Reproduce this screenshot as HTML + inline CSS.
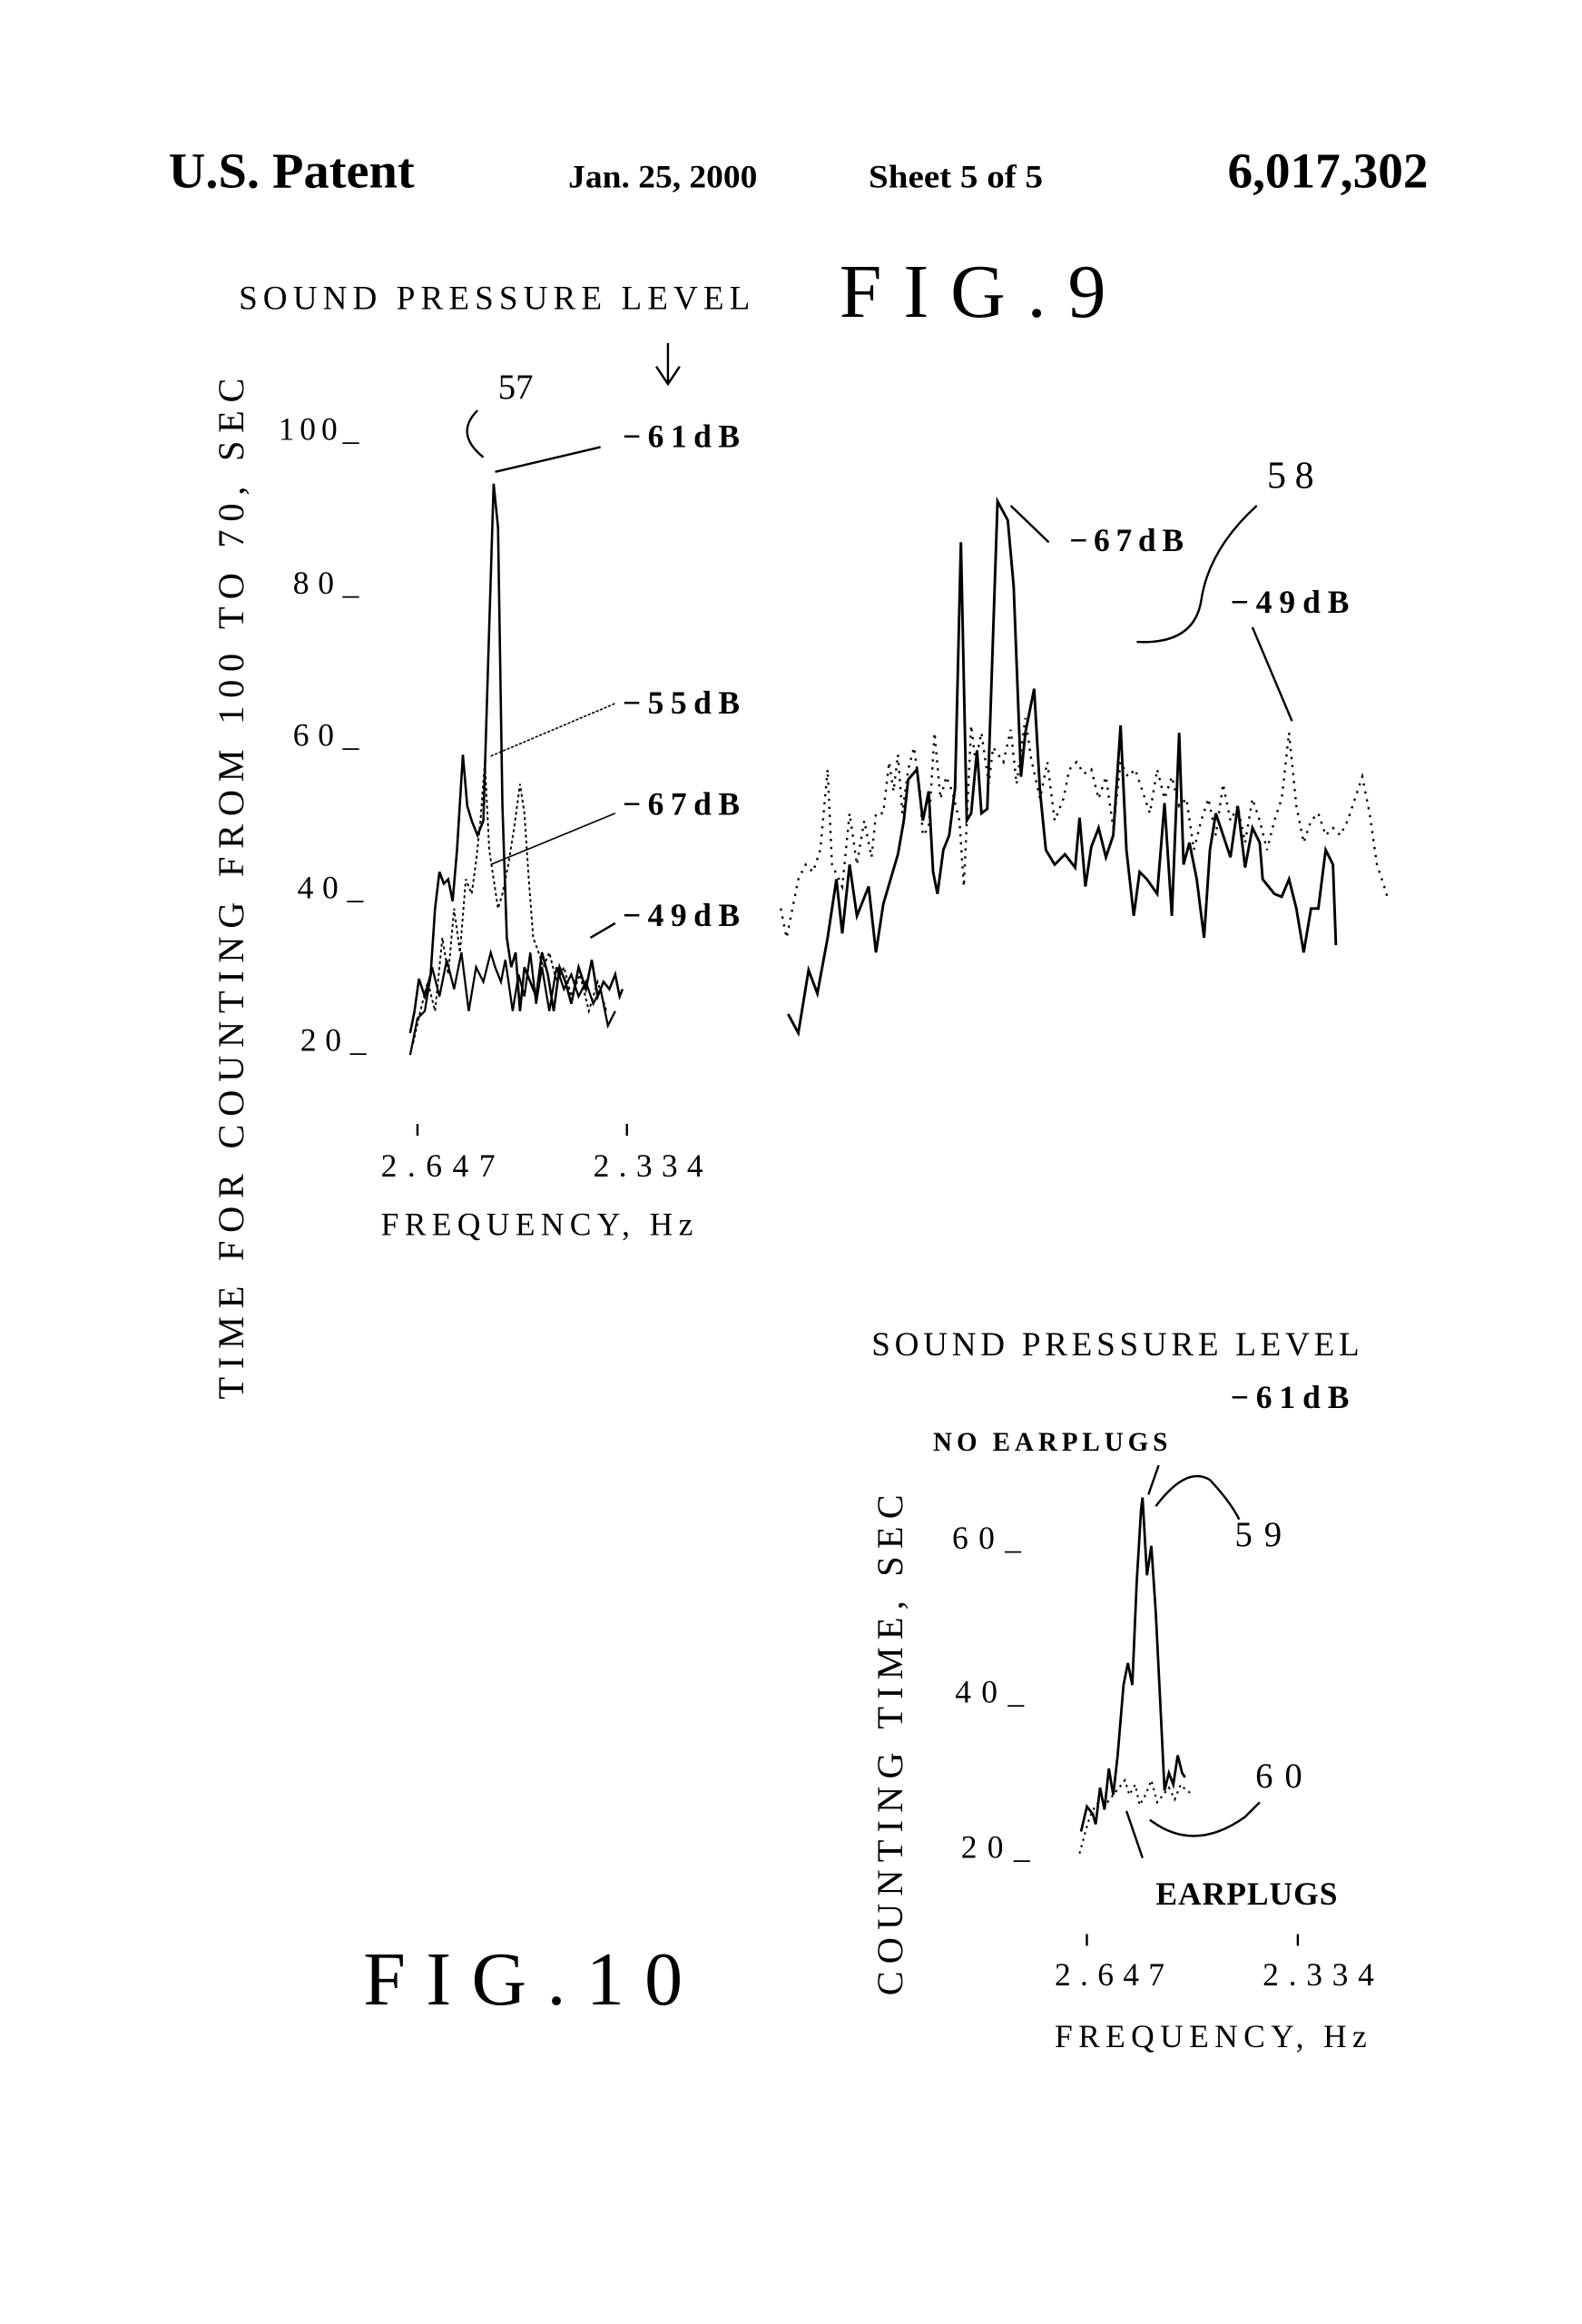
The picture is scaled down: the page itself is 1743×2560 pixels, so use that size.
<!DOCTYPE html>
<html><head><meta charset="utf-8"><style>
html,body{margin:0;padding:0;background:#fff}
svg{display:block}
text{font-family:"Liberation Serif",serif;fill:#000}
</style></head><body>
<svg width="1743" height="2560" viewBox="0 0 1080 1586" xmlns="http://www.w3.org/2000/svg">
<rect width="1080" height="1586" fill="#fff"/>
<g font-weight="bold">
<text x="115" y="128" font-size="34" textLength="168" lengthAdjust="spacingAndGlyphs">U.S. Patent</text>
<text x="388" y="128" font-size="22" textLength="129" lengthAdjust="spacingAndGlyphs">Jan. 25, 2000</text>
<text x="593" y="128" font-size="22" textLength="119" lengthAdjust="spacingAndGlyphs">Sheet 5 of 5</text>
<text x="838" y="128" font-size="34" textLength="137" lengthAdjust="spacingAndGlyphs">6,017,302</text>
</g>
<text x="163" y="211" font-size="23" textLength="349">SOUND PRESSURE LEVEL</text>
<text x="573" y="216" font-size="52" textLength="182">FIG.9</text>
<path d="M456 234 V262 M448 250 L456 262 L464 250" stroke="#000" fill="none" stroke-width="1.5"/>
<text transform="translate(166,955) rotate(-90)" font-size="25" textLength="697">TIME FOR COUNTING FROM 100 TO 70, SEC</text>
<g font-size="22">
<text x="190" y="300" textLength="55">100_</text>
<text x="200" y="405" textLength="45">80_</text>
<text x="200" y="509" textLength="45">60_</text>
<text x="203" y="613" textLength="45">40_</text>
<text x="205" y="717" textLength="45">20_</text>
<text x="340" y="272" font-size="24">57</text>
<text x="425" y="305" font-weight="bold" textLength="80">−61dB</text>
<text x="425" y="487" font-weight="bold" textLength="80">−55dB</text>
<text x="425" y="556" font-weight="bold" textLength="80">−67dB</text>
<text x="425" y="632" font-weight="bold" textLength="80">−49dB</text>
<text x="260" y="803" textLength="78">2.647</text>
<text x="405" y="803" textLength="75">2.334</text>
<text x="260" y="843" textLength="213">FREQUENCY, Hz</text>
<text x="730" y="376" font-weight="bold" textLength="78">−67dB</text>
<text x="840" y="418" font-weight="bold" textLength="81">−49dB</text>
<text x="865" y="333" font-size="26" textLength="32">58</text>
</g>
<g stroke="#000" fill="none" stroke-width="1.5">
<path d="M326 280 Q310 296 330 312"/>
<path d="M338 322 L410 305"/>
<path d="M335 516 L420 480" stroke-dasharray="2 1" stroke-width="1"/>
<path d="M335 590 L420 555" stroke-width="1"/>
<path d="M403 640 L420 630"/>
<path d="M285 767 V775 M428 767 V775"/>
<path d="M690 345 L716 370"/>
<path d="M776 438 Q815 440 820 410 Q825 375 858 345"/>
<path d="M855 428 L882 492"/>
</g>
<g fill="none" stroke="#000">
<polyline stroke-width="1.6" points="280,705 283,690 286,668 290,680 294,665 297,620 300,595 303,603 306,600 309,615 312,580 316,515 319,550 322,560 326,570 330,560 333,460 335,395 337,330 340,360 343,550 346,640 349,660 352,650 355,690 358,660 362,670 366,680 370,650 374,665 378,690 382,660 386,670 390,685 395,660 400,675 404,655 408,680 412,670 416,675 420,665 423,680 425,675"/>
<polyline stroke-width="1.4" points="280,720 285,695 290,690 295,660 300,680 305,655 310,675 315,650 320,690 325,660 330,670 335,650 338,660 342,670 345,655 350,690 354,665 358,680 362,650 366,685 370,660 375,690 380,660 385,675 390,665 395,680 400,670 405,685 410,675 415,700 420,690"/>
<polyline stroke-width="1.2" stroke-dasharray="2 2" points="282,712 287,690 292,670 297,690 302,640 306,665 310,620 314,650 318,600 322,610 325,588 328,560 331,520 334,580 337,600 340,620 343,610 347,590 351,565 355,535 358,555 361,600 364,640 367,648 371,660 375,650 380,670 385,660 390,680 396,665 402,690 408,670 414,690"/>
</g>
<g fill="none" stroke="#000">
<polyline stroke-width="1.8" points="538,692 545,705 552,662 558,678 565,640 571,600 575,637 580,590 585,625 593,605 598,650 603,617 608,600 613,583 617,560 620,532 626,525 630,560 634,540 637,595 640,610 644,580 648,570 652,538 656,370 660,560 663,555 667,512 670,555 674,552 681,342 688,355 692,400 697,530 700,500 706,470 710,540 714,580 720,590 727,583 734,592 737,558 741,605 745,578 750,565 755,585 760,570 765,495 769,580 774,625 778,595 783,600 790,610 795,548 800,625 805,500 808,590 812,575 817,600 822,640 826,580 830,555 835,570 840,585 845,550 850,592 855,565 860,575 862,600 866,605 870,610 875,612 880,600 885,620 890,650 895,620 900,620 905,580 910,590 912,645"/>
<polyline stroke-width="1.5" stroke-dasharray="1.5 4" points="533,620 537,640 540,625 545,600 550,590 555,595 560,580 565,525 568,590 575,605 580,555 585,590 590,560 595,585 598,555 603,555 607,520 610,540 613,515 616,555 620,525 624,510 628,540 630,570 634,565 638,500 642,545 646,530 650,540 655,560 658,605 663,495 666,520 670,500 675,535 678,510 685,520 690,498 694,535 700,490 704,518 710,545 715,520 720,560 726,545 730,525 735,520 740,528 745,525 750,545 755,530 760,565 765,520 770,530 775,525 780,540 785,555 790,525 795,545 800,530 805,550 810,545 815,580 820,560 825,545 830,570 835,535 840,560 845,550 850,575 855,545 860,560 865,580 870,560 875,545 880,500 885,550 890,575 895,560 900,555 905,570 910,565 915,570 920,560 925,545 930,530 935,555 940,590 945,605 948,615"/>
</g>
<text x="595" y="925" font-size="23" textLength="333">SOUND PRESSURE LEVEL</text>
<text x="840" y="961" font-size="22" font-weight="bold" textLength="81">−61dB</text>
<text x="637" y="990" font-size="18" font-weight="bold" textLength="160">NO EARPLUGS</text>
<text transform="translate(616,1362) rotate(-90)" font-size="25" textLength="342">COUNTING TIME, SEC</text>
<g font-size="22">
<text x="650" y="1057" textLength="47">60_</text>
<text x="652" y="1162" textLength="47">40_</text>
<text x="656" y="1268" textLength="47">20_</text>
<text x="843" y="1055" font-size="24" textLength="32">59</text>
<text x="857" y="1220" font-size="24" textLength="32">60</text>
<text x="789" y="1300" font-weight="bold" textLength="124">EARPLUGS</text>
<text x="720" y="1355" textLength="75">2.647</text>
<text x="862" y="1355" textLength="76">2.334</text>
<text x="720" y="1397" textLength="213">FREQUENCY, Hz</text>
</g>
<text x="248" y="1368" font-size="52" textLength="218">FIG.10</text>
<g stroke="#000" fill="none" stroke-width="1.5">
<path d="M791 1000 L784 1020"/>
<path d="M789 1028 Q810 1000 826 1010 Q840 1025 846 1037"/>
<path d="M769 1236 L780 1268"/>
<path d="M785 1242 Q815 1265 850 1240 L860 1230"/>
<path d="M742 1320 V1328 M886 1320 V1328"/>
<polyline stroke-width="1.7" points="738,1250 742,1233 746,1238 748,1245 751,1220 754,1235 757,1207 760,1225 763,1198 767,1150 770,1135 773,1150 776,1080 779,1030 780,1022 783,1075 786,1055 789,1100 792,1160 795,1222 798,1210 801,1218 804,1198 807,1210 809,1213"/>
<polyline stroke-width="1.3" stroke-dasharray="1.5 3" points="737,1265 741,1250 744,1240 748,1232 752,1228 756,1230 760,1225 764,1220 768,1215 771,1225 775,1218 778,1232 782,1225 786,1215 790,1230 794,1225 798,1220 802,1228 806,1218 810,1222 815,1225"/>
</g>
</svg>
</body></html>
